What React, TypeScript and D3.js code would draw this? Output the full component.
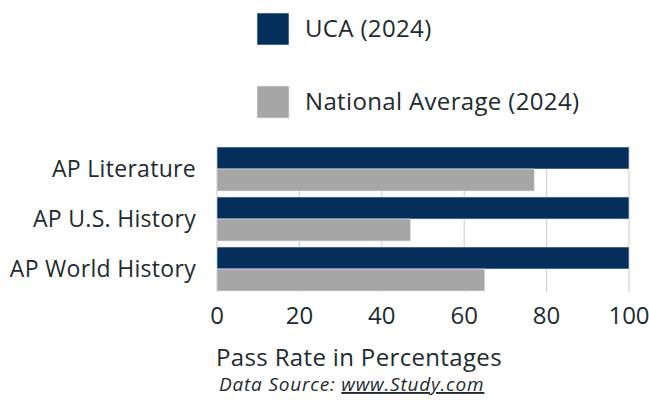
import React, { useEffect, useRef } from "react";
import * as d3 from "d3";

const categories = ["AP Literature", "AP U.S. History", "AP World History"];
const ucaValues = [100, 100, 100];
const nationalValues = [77, 47, 65];
const seriesNames = ["UCA (2024)", "National Average (2024)"];
const tickValues = [0, 20, 40, 60, 80, 100];

const NAVY = "#032f5a";
const GRAY = "#a6a6a6";
const TEXT = "#1d2b31";
const FONT = "'Open Sans', sans-serif";

export default function App() {
  const ref = useRef<SVGSVGElement>(null);

  useEffect(() => {
    const svg = d3.select(ref.current);
    svg.selectAll("*").remove();

    const x = d3.scaleLinear().domain([0, 100]).range([217, 629]);
    const y = d3.scaleBand().domain(categories).range([147, 291]).paddingInner(0.12).paddingOuter(0);
    const sub = d3.scaleBand().domain(["uca", "nat"]).range([0, y.bandwidth()]).padding(0);

    // gridlines
    svg
      .append("g")
      .selectAll("line")
      .data(tickValues)
      .join("line")
      .attr("x1", (d) => x(d))
      .attr("x2", (d) => x(d))
      .attr("y1", 147)
      .attr("y2", 292)
      .attr("stroke", "#d0d3d4")
      .attr("stroke-width", 1.2);

    const rows = categories.map((c, i) => ({ c, uca: ucaValues[i], nat: nationalValues[i] }));
    const g = svg.append("g");
    g.selectAll("rect.uca")
      .data(rows)
      .join("rect")
      .attr("class", "uca")
      .attr("x", x(0))
      .attr("y", (d) => (y(d.c) as number) + (sub("uca") as number))
      .attr("width", (d) => x(d.uca) - x(0))
      .attr("height", sub.bandwidth())
      .attr("fill", NAVY)
      .attr("stroke", "#e8ecef")
      .attr("stroke-width", 0.6);
    g.selectAll("rect.nat")
      .data(rows)
      .join("rect")
      .attr("class", "nat")
      .attr("x", x(0))
      .attr("y", (d) => (y(d.c) as number) + (sub("nat") as number))
      .attr("width", (d) => x(d.nat) - x(0))
      .attr("height", sub.bandwidth())
      .attr("fill", GRAY)
      .attr("stroke", "#e8ecef")
      .attr("stroke-width", 0.6);

    // category labels
    svg
      .append("g")
      .selectAll("text")
      .data(categories)
      .join("text")
      .attr("x", 196)
      .attr("y", (d) => (y(d) as number) + y.bandwidth() / 2)
      .attr("dy", "0.35em")
      .attr("text-anchor", "end")
      .attr("font-family", FONT)
      .attr("font-size", 23)
      .attr("letter-spacing", 0.3)
      .attr("fill", TEXT)
      .text((d) => d);

    // x tick labels
    svg
      .append("g")
      .selectAll("text")
      .data(tickValues)
      .join("text")
      .attr("x", (d) => x(d))
      .attr("y", 324)
      .attr("text-anchor", "middle")
      .attr("font-family", FONT)
      .attr("font-size", 24)
      .attr("fill", TEXT)
      .text((d) => d);

    svg
      .append("text")
      .attr("x", 216)
      .attr("y", 366)
      .attr("font-family", FONT)
      .attr("font-size", 24)
      .attr("letter-spacing", 0.35)
      .attr("fill", TEXT)
      .text("Pass Rate in Percentages");

    const src = svg
      .append("text")
      .attr("x", 219)
      .attr("y", 391)
      .attr("font-family", FONT)
      .attr("font-size", 19)
      .attr("letter-spacing", 0.8)
      .attr("font-style", "italic")
      .attr("fill", TEXT);
    src.append("tspan").text("Data Source: ");
    src.append("tspan").attr("text-decoration", "underline").text("www.Study.com");

    // legend
    const legendColors = [NAVY, GRAY];
    const legendY = [13, 86];
    const lg = svg
      .append("g")
      .selectAll("g")
      .data(seriesNames)
      .join("g")
      .attr("transform", (d, i) => `translate(257,${legendY[i]})`);
    lg.append("rect")
      .attr("width", 32)
      .attr("height", 32)
      .attr("fill", (d, i) => legendColors[i])
      .attr("stroke", "#e8ecef")
      .attr("stroke-width", 0.6);
    lg.append("text")
      .attr("x", 48)
      .attr("y", 16)
      .attr("dy", "0.35em")
      .attr("font-family", FONT)
      .attr("font-size", 24)
      .attr("letter-spacing", 0.35)
      .attr("fill", TEXT)
      .text((d) => d);
  }, []);

  return (
    <svg
      ref={ref}
      width={649}
      height={400}
      style={{ position: "absolute", left: 0, top: 0, background: "#fff" }}
    />
  );
}
